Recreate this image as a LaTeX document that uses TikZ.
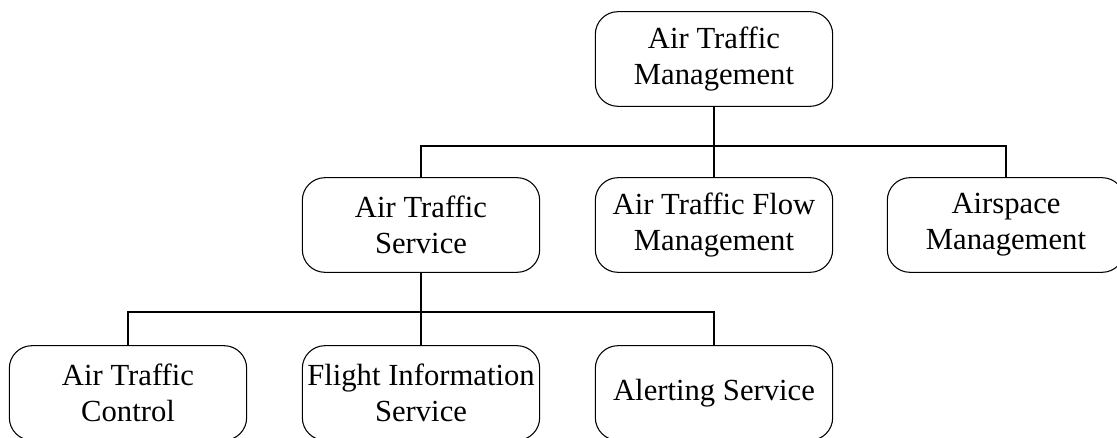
\documentclass[tikz,border=0pt]{standalone}
\usepackage{fontspec}
\setmainfont{Liberation Serif}

\tikzset{
  unitbox/.style={draw, rounded corners=17pt, line width=0.8pt, minimum width=178pt, minimum height=71pt, align=center, inner sep=0pt, font=\fontsize{23}{27}\selectfont},
  busline/.style={line width=1.5pt}
}

\begin{document}
\begin{tikzpicture}[x=0.75pt,y=0.75pt,yscale=-1,xscale=1]
\useasboundingbox (0,0) rectangle (1117,438);

% Top box
\node [unitbox] (atm) at (714,59) {Air Traffic\\Management};

% Second row
\node [unitbox] (ats) at (421,225) {Air Traffic\\Service};
\node [unitbox] (atfm) at (714,225) {Air Traffic Flow\\Management};
\node [unitbox] (asm) at (1006,225) {Airspace\\Management};

% Third row
\node [unitbox] (atc) at (128,393) {Air Traffic\\Control};
\node [unitbox] (fis) at (421,393) {Flight Information\\Service};
\node [unitbox] (als) at (714,393) {Alerting Service};

% Bus points
\coordinate (busa) at (714,146);
\coordinate (busb) at (421,312);

% Connectors
\draw [busline] (atm.south) -- (busa);
\draw [busline] (busa) -| (ats.north);
\draw [busline] (busa) -- (atfm.north);
\draw [busline] (busa) -| (asm.north);

\draw [busline] (ats.south) -- (busb);
\draw [busline] (busb) -| (atc.north);
\draw [busline] (busb) -- (fis.north);
\draw [busline] (busb) -| (als.north);

\end{tikzpicture}
\end{document}
